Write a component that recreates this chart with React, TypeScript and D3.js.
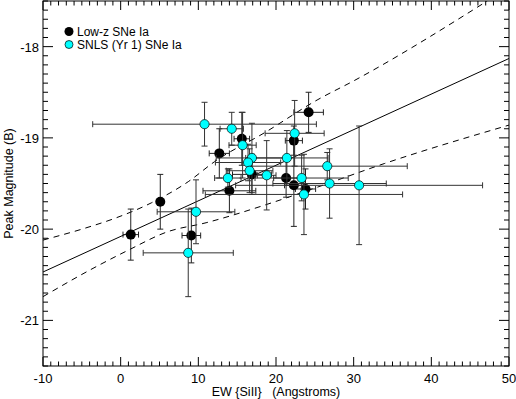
import React from 'react';
import * as d3 from 'd3';

// Low-z SNe Ia: [EW SiII, peak mag B, x error, y error]
const lowZ: number[][] = [
  [1.3, -20.06, 1.0, 0.28],
  [5.1, -19.70, 0.3, 0.30],
  [9.1, -20.07, 1.2, 0.30],
  [12.7, -19.17, 1.3, 0.27],
  [14.0, -19.58, 3.4, 0.24],
  [15.6, -19.01, 1.0, 0.29],
  [16.9, -19.40, 2.5, 0.22],
  [21.3, -19.44, 1.6, 0.21],
  [22.3, -19.03, 1.1, 0.16],
  [22.3, -19.52, 1.2, 0.45],
  [23.8, -19.56, 1.3, 0.22],
  [24.2, -18.72, 1.9, 0.22],
];

// SNLS (Yr 1) SNe Ia
const snls: number[][] = [
  [10.8, -18.85, 14.4, 0.24],
  [14.3, -18.90, 1.5, 0.18],
  [15.7, -19.08, 1.75, 0.36],
  [13.8, -19.44, 1.7, 0.10],
  [9.7, -19.81, 5.0, 0.35],
  [8.7, -20.26, 5.8, 0.48],
  [16.9, -19.22, 4.6, 0.38],
  [16.4, -19.27, 4.2, 0.20],
  [16.6, -19.36, 3.0, 0.24],
  [18.8, -19.41, 1.2, 0.38],
  [21.4, -19.22, 5.3, 0.30],
  [22.4, -18.95, 3.8, 0.36],
  [26.6, -19.31, 10.3, 0.15],
  [23.3, -19.44, 6.0, 0.25],
  [26.9, -19.50, 7.3, 0.38],
  [30.7, -19.52, 15.9, 0.65],
  [23.6, -19.62, 12.7, 0.44],
];

// fit line and its band
const fitLine: [number, number][] = [[-10, -20.47], [50, -18.13]];
const upperBand: [number, number][] = [
  [-10, -20.12], [-4.6, -19.99], [-0.7, -19.88], [4, -19.71], [8.7, -19.48],
  [12.1, -19.26], [18.6, -18.94], [25.4, -18.58], [29.9, -18.38], [47.2, -17.5],
];
const lowerBand: [number, number][] = [
  [-10, -20.74], [-4, -20.45], [1, -20.23], [6, -20.03], [11, -19.93],
  [19.5, -19.71], [25, -19.55], [34, -19.28], [50, -18.86],
];

const xTicks = [-10, 0, 10, 20, 30, 40, 50];
const yTicks = [-18, -19, -20, -21];

const font = '"Liberation Sans", Arial, Helvetica, sans-serif';

export default function App() {
  const width = 516;
  const height = 399;
  const left = 43, right = 509, top = 1, bottom = 366;

  const x = d3.scaleLinear().domain([-10, 50]).range([left, right]);
  const y = d3.scaleLinear().domain([-17.5, -21.5]).range([top, bottom]);

  const line = d3.line<[number, number]>().x(d => x(d[0])).y(d => y(d[1]));
  const curve = d3.line<[number, number]>()
    .x(d => x(d[0])).y(d => y(d[1]))
    .curve(d3.curveMonotoneX);

  const xMinor = d3.range(-10, 51, 1).filter(v => v % 10 !== 0);
  const yMinor = d3.range(-215, -174, 1).map(v => v / 10).filter(v => Math.round(v * 10) % 10 !== 0);

  const errBars = (data: number[][], key: string, color: string) =>
    data.map((d, i) => {
      const cx = x(d[0]), cy = y(d[1]);
      const x0 = x(d[0] - d[2]), x1 = x(d[0] + d[2]);
      const y0 = y(d[1] + d[3]), y1 = y(d[1] - d[3]);
      const c = 3;
      return (
        <g key={`${key}-e${i}`} stroke={color} strokeWidth={1} fill="none">
          <line x1={x0} x2={x1} y1={cy} y2={cy} />
          <line x1={x0} x2={x0} y1={cy - c} y2={cy + c} />
          <line x1={x1} x2={x1} y1={cy - c} y2={cy + c} />
          <line x1={cx} x2={cx} y1={y0} y2={y1} />
          <line x1={cx - c} x2={cx + c} y1={y0} y2={y0} />
          <line x1={cx - c} x2={cx + c} y1={y1} y2={y1} />
        </g>
      );
    });

  return (
    <svg width={width} height={height} style={{ position: 'absolute', left: 0, top: 0, background: '#fff' }}
      fontFamily={font}>
      <defs>
        <clipPath id="plot">
          <rect x={left} y={top} width={right - left} height={bottom - top} />
        </clipPath>
      </defs>

      <g clipPath="url(#plot)">
        <path d={line(fitLine) || ''} stroke="#000" strokeWidth={1} fill="none" />
        <path d={curve(upperBand) || ''} stroke="#000" strokeWidth={1} fill="none" strokeDasharray="6,5" />
        <path d={curve(lowerBand) || ''} stroke="#000" strokeWidth={1} fill="none" strokeDasharray="6,5" />

        {errBars(lowZ, 'l', '#222')}
        {lowZ.map((d, i) => (
          <circle key={`l${i}`} cx={x(d[0])} cy={y(d[1])} r={5} fill="#000" />
        ))}
        {errBars(snls, 's', '#333')}
        {snls.map((d, i) => (
          <circle key={`s${i}`} cx={x(d[0])} cy={y(d[1])} r={4.6} fill="#00ffff" stroke="#000" strokeWidth={0.7} />
        ))}
      </g>

      {/* frame and ticks on all four sides */}
      <rect x={left} y={top} width={right - left} height={bottom - top} fill="none" stroke="#000" strokeWidth={1} />
      <g stroke="#000" strokeWidth={1}>
        {xTicks.map(v => (
          <g key={`xt${v}`}>
            <line x1={x(v)} x2={x(v)} y1={bottom} y2={bottom - 9} />
            <line x1={x(v)} x2={x(v)} y1={top} y2={top + 9} />
          </g>
        ))}
        {xMinor.map(v => (
          <g key={`xm${v}`}>
            <line x1={x(v)} x2={x(v)} y1={bottom} y2={bottom - 4.5} />
            <line x1={x(v)} x2={x(v)} y1={top} y2={top + 4.5} />
          </g>
        ))}
        {yTicks.map(v => (
          <g key={`yt${v}`}>
            <line x1={left} x2={left + 10} y1={y(v)} y2={y(v)} />
            <line x1={right} x2={right - 10} y1={y(v)} y2={y(v)} />
          </g>
        ))}
        {yMinor.map(v => (
          <g key={`ym${v}`}>
            <line x1={left} x2={left + 5} y1={y(v)} y2={y(v)} />
            <line x1={right} x2={right - 5} y1={y(v)} y2={y(v)} />
          </g>
        ))}
      </g>

      {xTicks.map(v => (
        <text key={`xl${v}`} x={x(v)} y={bottom + 17} fontSize={13} textAnchor="middle" fill="#000">{v}</text>
      ))}
      {yTicks.map(v => (
        <text key={`yl${v}`} x={left - 4} y={y(v) + 5} fontSize={13} textAnchor="end" fill="#000">{v}</text>
      ))}

      <text x={(left + right) / 2} y={396} fontSize={12.5} textAnchor="middle" fill="#000" style={{ whiteSpace: 'pre' }}>
        {'EW {SiII}   (Angstroms)'}
      </text>
      <text transform={`translate(13, ${(top + bottom) / 2}) rotate(-90)`} fontSize={12.5} textAnchor="middle" fill="#000">
        Peak Magnitude (B)
      </text>

      {/* legend */}
      <circle cx={69} cy={31.5} r={4.5} fill="#000" />
      <text x={77} y={36} fontSize={12} fill="#000">Low-z SNe Ia</text>
      <circle cx={69} cy={44.5} r={4} fill="#00ffff" stroke="#000" strokeWidth={0.7} />
      <text x={77} y={49} fontSize={12} fill="#000">SNLS (Yr 1) SNe Ia</text>
    </svg>
  );
}
